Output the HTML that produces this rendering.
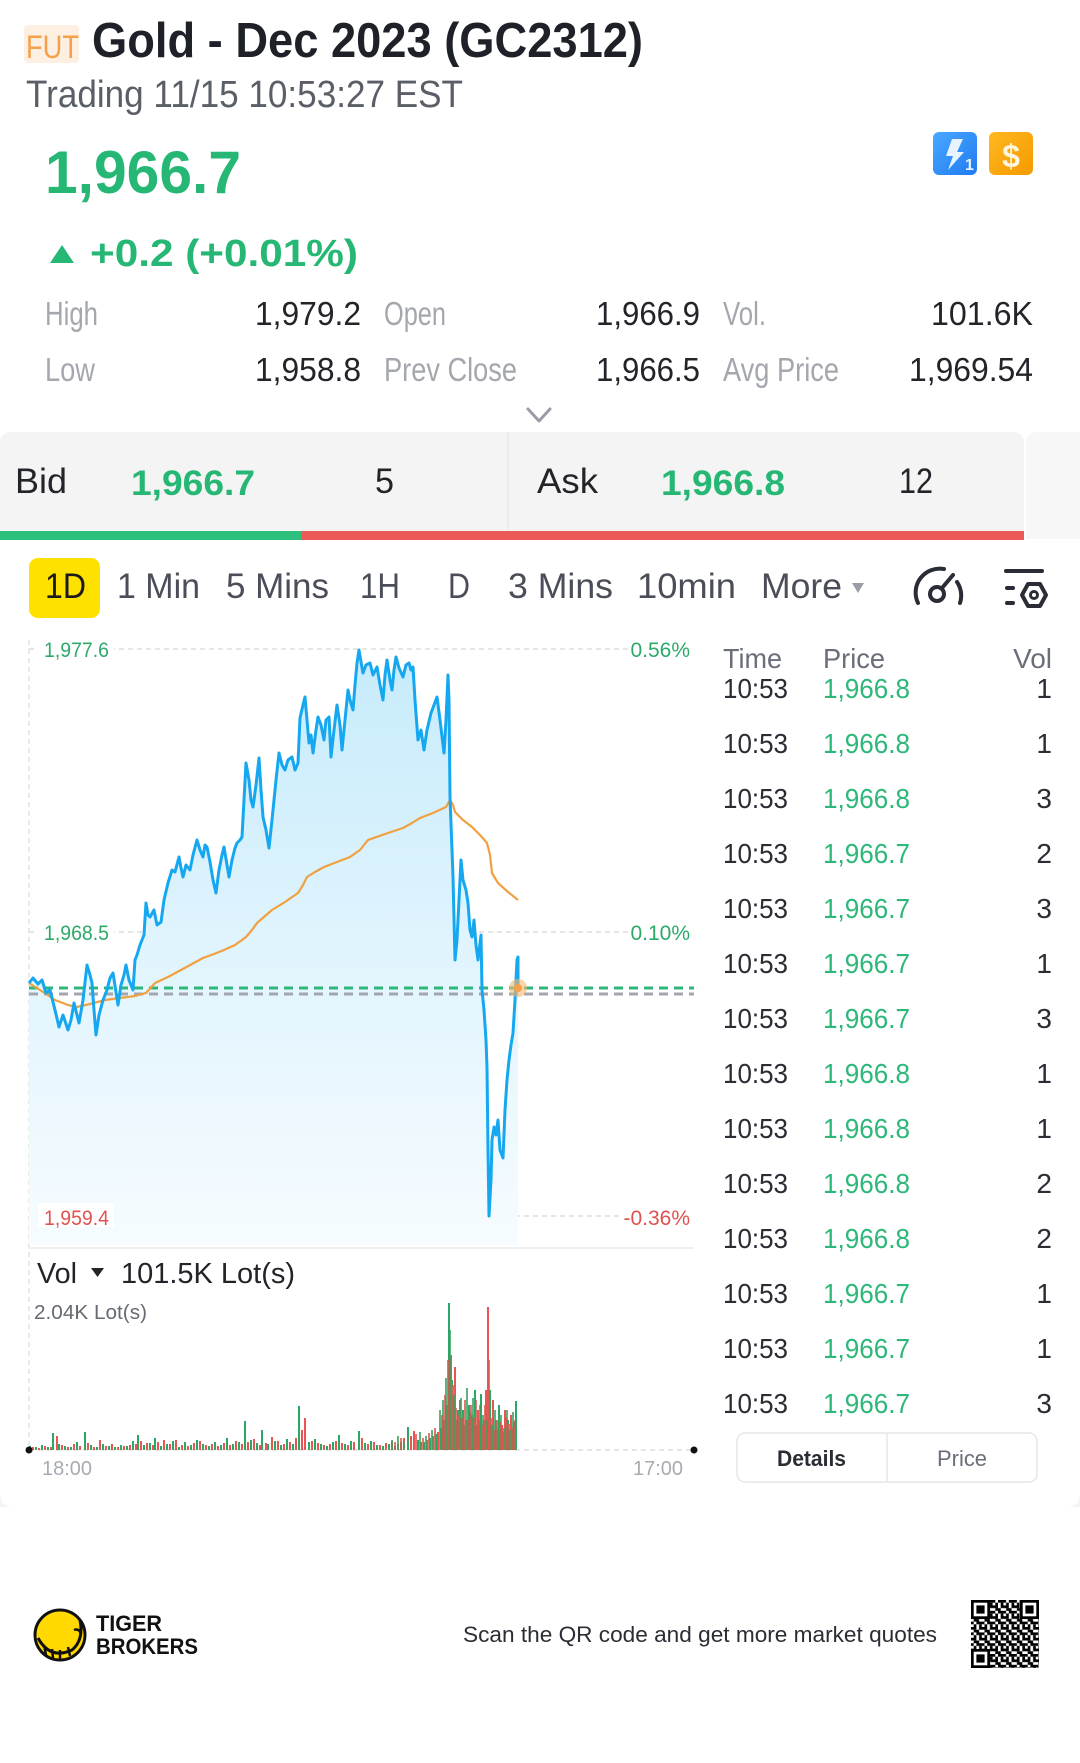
<!DOCTYPE html>
<html><head><meta charset="utf-8"><style>
html,body{margin:0;padding:0;background:#fff;}
svg{display:block;}
</style></head><body>
<svg width="1080" height="1763" viewBox="0 0 1080 1763" xmlns="http://www.w3.org/2000/svg" font-family="'Liberation Sans', sans-serif">
<defs>
<linearGradient id="af" gradientUnits="userSpaceOnUse" x1="0" y1="650" x2="0" y2="1245">
<stop offset="0" stop-color="#c6ebfb"/><stop offset="0.5" stop-color="#e0f4fd"/><stop offset="1" stop-color="#f6fcff"/>
</linearGradient>
<linearGradient id="bl" x1="0" y1="0" x2="1" y2="1"><stop offset="0" stop-color="#4aa8ff"/><stop offset="1" stop-color="#1f7bf0"/></linearGradient>
<linearGradient id="og" x1="0" y1="0" x2="1" y2="1"><stop offset="0" stop-color="#ffb820"/><stop offset="1" stop-color="#f59a00"/></linearGradient>
<pattern id="qr" width="10.8" height="10.8" patternUnits="userSpaceOnUse" x="971" y="1600">
<rect x="0" y="0" width="2.7" height="2.7" fill="#000"/><rect x="5.4" y="0" width="5.4" height="2.7" fill="#000"/>
<rect x="2.7" y="2.7" width="2.7" height="2.7" fill="#000"/><rect x="8.1" y="2.7" width="2.7" height="5.4" fill="#000"/>
<rect x="0" y="5.4" width="5.4" height="2.7" fill="#000"/><rect x="2.7" y="8.1" width="2.7" height="2.7" fill="#000"/>
<rect x="5.4" y="8.1" width="2.7" height="2.7" fill="#000"/>
</pattern>
</defs>

<!-- Header -->
<rect x="24" y="25" width="55" height="38" rx="4" fill="#fdf0e3"/>
<text x="26" y="58" font-size="32" fill="#f5a04a" textLength="53" lengthAdjust="spacingAndGlyphs">FUT</text>
<text x="92" y="57" font-size="49" font-weight="bold" fill="#1f2129" textLength="551" lengthAdjust="spacingAndGlyphs">Gold - Dec 2023 (GC2312)</text>
<text x="26" y="107" font-size="38" fill="#5a5e67" textLength="437" lengthAdjust="spacingAndGlyphs">Trading 11/15 10:53:27 EST</text>

<rect x="933" y="132" width="44" height="43" rx="6" fill="url(#bl)"/>
<path d="M952 139 L963 139 L957 152 L964 152 L948 170 L953 156 L946 156 Z" fill="#e8f3ff"/>
<text x="965" y="170" font-size="16" font-weight="bold" fill="#e8f3ff">1</text>
<rect x="989" y="132" width="44" height="43" rx="6" fill="url(#og)"/>
<text x="1011" y="167" font-size="32" font-weight="bold" fill="#fff6e0" text-anchor="middle">$</text>

<text x="45" y="193" font-size="60" font-weight="bold" fill="#27b775" textLength="196" lengthAdjust="spacingAndGlyphs">1,966.7</text>
<polygon points="50,263 62,245 74,263" fill="#27b775"/>
<text x="90" y="266" font-size="38" font-weight="bold" fill="#27b775" textLength="268" lengthAdjust="spacingAndGlyphs">+0.2 (+0.01%)</text>

<g font-size="33">
<text x="45" y="325" fill="#a4a7ae" textLength="53" lengthAdjust="spacingAndGlyphs">High</text>
<text x="255" y="325" fill="#222429" textLength="106" lengthAdjust="spacingAndGlyphs">1,979.2</text>
<text x="384" y="325" fill="#a4a7ae" textLength="62" lengthAdjust="spacingAndGlyphs">Open</text>
<text x="596" y="325" fill="#222429" textLength="104" lengthAdjust="spacingAndGlyphs">1,966.9</text>
<text x="723" y="325" fill="#a4a7ae" textLength="43" lengthAdjust="spacingAndGlyphs">Vol.</text>
<text x="931" y="325" fill="#222429" textLength="102" lengthAdjust="spacingAndGlyphs">101.6K</text>
<text x="45" y="381" fill="#a4a7ae" textLength="50" lengthAdjust="spacingAndGlyphs">Low</text>
<text x="255" y="381" fill="#222429" textLength="106" lengthAdjust="spacingAndGlyphs">1,958.8</text>
<text x="384" y="381" fill="#a4a7ae" textLength="133" lengthAdjust="spacingAndGlyphs">Prev Close</text>
<text x="596" y="381" fill="#222429" textLength="104" lengthAdjust="spacingAndGlyphs">1,966.5</text>
<text x="723" y="381" fill="#a4a7ae" textLength="116" lengthAdjust="spacingAndGlyphs">Avg Price</text>
<text x="909" y="381" fill="#222429" textLength="124" lengthAdjust="spacingAndGlyphs">1,969.54</text>
</g>
<polyline points="528,409 539,421 550,409" fill="none" stroke="#9a9da5" stroke-width="3" stroke-linecap="round" stroke-linejoin="round"/>

<!-- Bid / Ask -->
<path d="M0 444 Q0 432 12 432 L1012 432 Q1024 432 1024 444 L1024 539 L0 539 Z" fill="#f4f4f5"/>
<path d="M1038 432 L1080 432 L1080 539 L1026 539 L1026 444 Q1026 432 1038 432 Z" fill="#f7f7f8"/>
<line x1="508" y1="432" x2="508" y2="531" stroke="#e8e8ea" stroke-width="1.5"/>
<rect x="0" y="531" width="301" height="9" fill="#2dbf7c"/>
<rect x="301" y="531" width="723" height="9" fill="#ec5a58"/>
<g font-size="35">
<text x="15" y="493" fill="#222429" textLength="52" lengthAdjust="spacingAndGlyphs">Bid</text>
<text x="131" y="495" fill="#27b775" font-weight="bold" textLength="124" lengthAdjust="spacingAndGlyphs">1,966.7</text>
<text x="375" y="493" fill="#222429" textLength="19" lengthAdjust="spacingAndGlyphs">5</text>
<text x="537" y="493" fill="#222429" textLength="61" lengthAdjust="spacingAndGlyphs">Ask</text>
<text x="661" y="495" fill="#27b775" font-weight="bold" textLength="124" lengthAdjust="spacingAndGlyphs">1,966.8</text>
<text x="899" y="493" fill="#222429" textLength="34" lengthAdjust="spacingAndGlyphs">12</text>
</g>

<!-- Tabs -->
<rect x="29" y="558" width="71" height="60" rx="9" fill="#ffe100"/>
<g font-size="35">
<text x="45" y="598" fill="#1a1a1a" textLength="41" lengthAdjust="spacingAndGlyphs">1D</text>
<text x="117" y="598" fill="#4b4e58" textLength="83" lengthAdjust="spacingAndGlyphs">1 Min</text>
<text x="226" y="598" fill="#4b4e58" textLength="103" lengthAdjust="spacingAndGlyphs">5 Mins</text>
<text x="360" y="598" fill="#4b4e58" textLength="40" lengthAdjust="spacingAndGlyphs">1H</text>
<text x="448" y="598" fill="#4b4e58" textLength="22" lengthAdjust="spacingAndGlyphs">D</text>
<text x="508" y="598" fill="#4b4e58" textLength="105" lengthAdjust="spacingAndGlyphs">3 Mins</text>
<text x="637" y="598" fill="#4b4e58" textLength="99" lengthAdjust="spacingAndGlyphs">10min</text>
<text x="761" y="598" fill="#4b4e58" textLength="81" lengthAdjust="spacingAndGlyphs">More</text>
</g>
<polygon points="852,583 864,583 858,593" fill="#9a9da5"/>
<!-- speedometer -->
<g fill="none" stroke="#2a2d36" stroke-width="4" stroke-linecap="round">
<path d="M918 603 A24 24 0 0 1 944 569"/>
<path d="M957 582 A24 24 0 0 1 960 603"/>
<circle cx="937" cy="594" r="7"/>
<line x1="942" y1="588" x2="953" y2="575"/>
</g>
<!-- filter icon -->
<g fill="none" stroke="#2a2d36" stroke-width="4" stroke-linecap="round">
<line x1="1006" y1="571" x2="1042" y2="571"/>
<line x1="1007" y1="588" x2="1013" y2="588"/>
<line x1="1007" y1="603" x2="1013" y2="603"/>
<polygon points="1022,595 1028,584 1040,584 1046,595 1040,606 1028,606" stroke-linejoin="round"/>
<circle cx="1034" cy="595" r="3.5" stroke-width="3"/>
</g>

<!-- Price chart -->
<line x1="29" y1="640" x2="29" y2="1450" stroke="#e2e2e2" stroke-width="1.5" stroke-dasharray="5 4"/>
<g stroke="#dedede" stroke-width="1.5" stroke-dasharray="5 4">
<line x1="29" y1="649" x2="694" y2="649"/>
<line x1="29" y1="932" x2="694" y2="932"/>
<line x1="29" y1="1216" x2="694" y2="1216"/>
</g>

<polygon fill="url(#af)" points="29,1245 29,983 33,978 38,984 42,980 46,993 50,990 55,1010 59,1027 63,1015 68,1030 71,1020 74,1003 77,1015 79,1023 83,1000 87,965 90,975 92,983 94,1010 96,1035 99,1015 103,1000 107,990 110,978 113,973 116,992 118,1005 121,985 124,975 126,965 129,980 133,990 135,960 137,955 140,945 144,935 146,903 148,915 150,917 154,910 157,925 161,922 164,900 168,883 172,870 175,872 179,857 181,868 183,877 186,865 190,870 193,855 197,840 200,850 203,857 205,845 207,847 210,862 213,880 216,893 219,870 222,855 224,847 227,865 229,877 232,860 235,848 237,843 240,840 242,837 244,800 246,763 249,780 251,800 253,807 256,785 259,758 261,790 263,817 266,830 269,848 272,820 274,800 276,780 279,753 282,765 285,770 288,760 292,757 295,770 298,763 300,718 303,705 305,697 307,720 309,743 311,735 313,753 316,730 318,717 321,725 324,740 326,720 329,717 331,757 334,730 337,705 340,725 342,750 345,720 348,690 350,700 353,710 355,685 357,663 359,650 361,662 363,673 366,665 370,663 373,675 377,667 380,685 383,700 385,675 387,660 390,680 392,690 394,670 396,657 399,668 403,677 406,665 409,663 411,670 413,667 415,700 418,740 421,730 424,750 427,730 431,713 434,705 437,697 440,720 444,753 446,720 448,675 449,700 450,797 452,850 453,877 455,960 457,940 459,900 461,860 463,880 466,890 468,903 470,930 472,937 474,920 476,945 478,960 481,935 482,990 484,1010 486,1040 487,1067 488,1150 489,1216 491,1180 492,1140 494,1127 496,1135 498,1120 500,1150 503,1158 505,1110 507,1080 509,1060 511,1045 513,1033 515,1000 517,960 518,957 518,988 518,1245"/>

<g stroke-width="3" stroke-dasharray="9 6">
<line x1="29" y1="994" x2="694" y2="994" stroke="#a3a6ae"/>
<line x1="29" y1="988" x2="694" y2="988" stroke="#2db87a"/>
</g>

<polyline fill="none" stroke="#f0a040" stroke-width="2.2" stroke-linejoin="round" points="29,983 40,990 55,1000 68,1005 77,1007 90,1004 105,1000 120,998 135,996 146,993 155,983 168,977 181,970 192,964 203,958 214,954 224,950 235,945 242,940 246,937 252,930 257,923 265,916 272,910 285,902 298,893 303,885 307,877 315,872 324,867 337,862 350,857 360,850 368,840 385,834 403,828 412,823 420,818 433,813 446,807 450,800 453,805 455,812 463,820 472,827 480,835 487,843 490,855 492,873 495,878 498,883 508,892 518,900"/>

<polyline fill="none" stroke="#15a8f0" stroke-width="3" stroke-linejoin="round" points="29,983 33,978 38,984 42,980 46,993 50,990 55,1010 59,1027 63,1015 68,1030 71,1020 74,1003 77,1015 79,1023 83,1000 87,965 90,975 92,983 94,1010 96,1035 99,1015 103,1000 107,990 110,978 113,973 116,992 118,1005 121,985 124,975 126,965 129,980 133,990 135,960 137,955 140,945 144,935 146,903 148,915 150,917 154,910 157,925 161,922 164,900 168,883 172,870 175,872 179,857 181,868 183,877 186,865 190,870 193,855 197,840 200,850 203,857 205,845 207,847 210,862 213,880 216,893 219,870 222,855 224,847 227,865 229,877 232,860 235,848 237,843 240,840 242,837 244,800 246,763 249,780 251,800 253,807 256,785 259,758 261,790 263,817 266,830 269,848 272,820 274,800 276,780 279,753 282,765 285,770 288,760 292,757 295,770 298,763 300,718 303,705 305,697 307,720 309,743 311,735 313,753 316,730 318,717 321,725 324,740 326,720 329,717 331,757 334,730 337,705 340,725 342,750 345,720 348,690 350,700 353,710 355,685 357,663 359,650 361,662 363,673 366,665 370,663 373,675 377,667 380,685 383,700 385,675 387,660 390,680 392,690 394,670 396,657 399,668 403,677 406,665 409,663 411,670 413,667 415,700 418,740 421,730 424,750 427,730 431,713 434,705 437,697 440,720 444,753 446,720 448,675 449,700 450,797 452,850 453,877 455,960 457,940 459,900 461,860 463,880 466,890 468,903 470,930 472,937 474,920 476,945 478,960 481,935 482,990 484,1010 486,1040 487,1067 488,1150 489,1216 491,1180 492,1140 494,1127 496,1135 498,1120 500,1150 503,1158 505,1110 507,1080 509,1060 511,1045 513,1033 515,1000 517,960 518,957 518,988"/>
<circle cx="518" cy="988" r="9" fill="#f7b56e" fill-opacity="0.6"/>
<circle cx="518" cy="988" r="4" fill="#f5a04a"/>

<!-- axis labels -->
<g font-size="21">
<rect x="38" y="636" width="76" height="24" fill="#fff"/>
<text x="44" y="657" fill="#2daa6a" textLength="65" lengthAdjust="spacingAndGlyphs">1,977.6</text>
<rect x="628" y="636" width="66" height="24" fill="#fff"/>
<text x="690" y="657" fill="#2daa6a" text-anchor="end">0.56%</text>
<rect x="38" y="919" width="76" height="24" fill="#fff"/>
<text x="44" y="940" fill="#2daa6a" textLength="65" lengthAdjust="spacingAndGlyphs">1,968.5</text>
<rect x="628" y="919" width="66" height="24" fill="#fff"/>
<text x="690" y="940" fill="#2daa6a" text-anchor="end">0.10%</text>
<rect x="38" y="1203" width="76" height="24" fill="#fff"/>
<text x="44" y="1225" fill="#e0524f" textLength="65" lengthAdjust="spacingAndGlyphs">1,959.4</text>
<rect x="620" y="1203" width="74" height="24" fill="#fff"/>
<text x="690" y="1225" fill="#e0524f" text-anchor="end">-0.36%</text>
</g>

<!-- Volume -->
<line x1="28" y1="1248" x2="694" y2="1248" stroke="#ececec" stroke-width="1.5"/>
<text x="37" y="1283" font-size="29" fill="#222429" textLength="40" lengthAdjust="spacingAndGlyphs">Vol</text>
<polygon points="91,1268 104,1268 97.5,1277" fill="#222429"/>
<text x="121" y="1283" font-size="29" fill="#222429" textLength="174" lengthAdjust="spacingAndGlyphs">101.5K Lot(s)</text>
<text x="34" y="1319" font-size="20" fill="#666a72" textLength="113" lengthAdjust="spacingAndGlyphs">2.04K Lot(s)</text>

<line x1="29" y1="1450" x2="694" y2="1450" stroke="#dedede" stroke-width="1.5" stroke-dasharray="5 4"/>
<path fill="none" stroke="#2aa865" stroke-width="2" d="M30 1450V1446M36 1450V1447M42 1450V1445M48 1450V1447M53 1450V1433M59 1450V1444M65 1450V1446M71 1450V1447M77 1450V1442M85 1450V1432M91 1450V1445M97 1450V1447M103 1450V1444M109 1450V1446M115 1450V1447M121 1450V1445M127 1450V1446M133 1450V1441M138 1450V1435M144 1450V1445M150 1450V1443M155 1450V1438M161 1450V1446M167 1450V1444M173 1450V1441M179 1450V1447M185 1450V1442M191 1450V1445M197 1450V1440M203 1450V1444M209 1450V1446M215 1450V1442M221 1450V1445M227 1450V1438M233 1450V1444M239 1450V1442M245 1450V1421M251 1450V1440M257 1450V1443M262 1450V1430M268 1450V1444M275 1450V1441M281 1450V1445M287 1450V1439M293 1450V1444M299 1450V1406M309 1450V1442M315 1450V1439M321 1450V1444M327 1450V1446M333 1450V1442M339 1450V1435M345 1450V1444M351 1450V1441M359 1450V1431M365 1450V1443M371 1450V1441M377 1450V1445M383 1450V1446M389 1450V1444M395 1450V1446M401 1450V1442M408 1450V1427M418 1450V1440M424 1450V1442M430 1450V1438M436 1450V1434M441 1450V1428M444 1450V1420M449 1450V1303M452 1450V1380M458 1450V1410M463 1450V1410M469 1450V1405M475 1450V1390M481 1450V1394M490 1450V1390M496 1450V1420M499 1450V1405M508 1450V1420M514 1450V1422M516 1450V1401"/>
<path fill="none" stroke="#ea5553" stroke-width="2" d="M33 1450V1447M39 1450V1448M45 1450V1446M51 1450V1447M57 1450V1436M62 1450V1445M68 1450V1447M74 1450V1444M80 1450V1446M88 1450V1443M94 1450V1447M100 1450V1440M106 1450V1446M112 1450V1444M118 1450V1447M124 1450V1446M130 1450V1445M136 1450V1444M141 1450V1441M147 1450V1443M153 1450V1445M158 1450V1442M164 1450V1440M170 1450V1444M176 1450V1440M182 1450V1445M188 1450V1446M194 1450V1443M200 1450V1441M206 1450V1445M212 1450V1444M218 1450V1446M224 1450V1443M230 1450V1445M236 1450V1441M242 1450V1444M248 1450V1442M254 1450V1439M260 1450V1445M266 1450V1443M272 1450V1437M278 1450V1441M284 1450V1444M290 1450V1442M296 1450V1438M302 1450V1430M305 1450V1418M312 1450V1441M318 1450V1443M324 1450V1445M330 1450V1444M336 1450V1441M342 1450V1443M348 1450V1445M354 1450V1442M362 1450V1438M368 1450V1444M374 1450V1442M380 1450V1445M386 1450V1443M392 1450V1441M398 1450V1444M404 1450V1438M411 1450V1436M414 1450V1431M421 1450V1442M427 1450V1440M433 1450V1436M438 1450V1432M447 1450V1405M451 1450V1355M455 1450V1367M460 1450V1400M466 1450V1420M472 1450V1415M478 1450V1410M484 1450V1420M486 1450V1390M488 1450V1307M493 1450V1400M502 1450V1425M505 1450V1410M511 1450V1415"/>
<path fill="none" stroke="#3a9f5e" stroke-width="1.6" d="M392 1450V1440M398 1450V1436M404 1450V1442M420 1450V1432M426 1450V1436M432 1450V1430M440 1450V1410M443 1450V1400M446 1450V1378M450 1450V1330M454 1450V1395M457 1450V1420M461 1450V1398M464 1450V1425M467 1450V1388M470 1450V1412M473 1450V1398M477 1450V1425M480 1450V1405M483 1450V1415M487 1450V1420M492 1450V1425M495 1450V1410M498 1450V1430M501 1450V1415M504 1450V1428M507 1450V1410M510 1450V1430M513 1450V1412"/>
<path fill="none" stroke="#d8584e" stroke-width="1.6" d="M395 1450V1442M401 1450V1438M416 1450V1434M423 1450V1438M429 1450V1433M435 1450V1428M442 1450V1415M445 1450V1395M448 1450V1360M453 1450V1385M456 1450V1408M459 1450V1415M462 1450V1418M465 1450V1400M468 1450V1420M471 1450V1405M474 1450V1418M476 1450V1400M479 1450V1420M482 1450V1425M485 1450V1405M489 1450V1360M491 1450V1418M494 1450V1430M497 1450V1420M500 1450V1422M503 1450V1432M506 1450V1418M509 1450V1424M512 1450V1428M515 1450V1420"/>
<circle cx="29" cy="1450" r="3.5" fill="#111"/>
<circle cx="694" cy="1450" r="3.5" fill="#111"/>
<text x="42" y="1475" font-size="20" fill="#a8abb2" textLength="50" lengthAdjust="spacingAndGlyphs">18:00</text>
<text x="633" y="1475" font-size="20" fill="#a8abb2" textLength="50" lengthAdjust="spacingAndGlyphs">17:00</text>

<!-- Trade table -->
<g font-size="28">
<text x="723" y="668" fill="#6a6e78" textLength="59" lengthAdjust="spacingAndGlyphs">Time</text>
<text x="823" y="668" fill="#6a6e78" textLength="62" lengthAdjust="spacingAndGlyphs">Price</text>
<text x="1052" y="668" fill="#6a6e78" text-anchor="end">Vol</text>

<text x="723" y="698" fill="#2b2d35" textLength="65" lengthAdjust="spacingAndGlyphs">10:53</text><text x="823" y="698" fill="#2db87a" textLength="87" lengthAdjust="spacingAndGlyphs">1,966.8</text><text x="1052" y="698" fill="#2b2d35" text-anchor="end">1</text>
<text x="723" y="753" fill="#2b2d35" textLength="65" lengthAdjust="spacingAndGlyphs">10:53</text><text x="823" y="753" fill="#2db87a" textLength="87" lengthAdjust="spacingAndGlyphs">1,966.8</text><text x="1052" y="753" fill="#2b2d35" text-anchor="end">1</text>
<text x="723" y="808" fill="#2b2d35" textLength="65" lengthAdjust="spacingAndGlyphs">10:53</text><text x="823" y="808" fill="#2db87a" textLength="87" lengthAdjust="spacingAndGlyphs">1,966.8</text><text x="1052" y="808" fill="#2b2d35" text-anchor="end">3</text>
<text x="723" y="863" fill="#2b2d35" textLength="65" lengthAdjust="spacingAndGlyphs">10:53</text><text x="823" y="863" fill="#2db87a" textLength="87" lengthAdjust="spacingAndGlyphs">1,966.7</text><text x="1052" y="863" fill="#2b2d35" text-anchor="end">2</text>
<text x="723" y="918" fill="#2b2d35" textLength="65" lengthAdjust="spacingAndGlyphs">10:53</text><text x="823" y="918" fill="#2db87a" textLength="87" lengthAdjust="spacingAndGlyphs">1,966.7</text><text x="1052" y="918" fill="#2b2d35" text-anchor="end">3</text>
<text x="723" y="973" fill="#2b2d35" textLength="65" lengthAdjust="spacingAndGlyphs">10:53</text><text x="823" y="973" fill="#2db87a" textLength="87" lengthAdjust="spacingAndGlyphs">1,966.7</text><text x="1052" y="973" fill="#2b2d35" text-anchor="end">1</text>
<text x="723" y="1028" fill="#2b2d35" textLength="65" lengthAdjust="spacingAndGlyphs">10:53</text><text x="823" y="1028" fill="#2db87a" textLength="87" lengthAdjust="spacingAndGlyphs">1,966.7</text><text x="1052" y="1028" fill="#2b2d35" text-anchor="end">3</text>
<text x="723" y="1083" fill="#2b2d35" textLength="65" lengthAdjust="spacingAndGlyphs">10:53</text><text x="823" y="1083" fill="#2db87a" textLength="87" lengthAdjust="spacingAndGlyphs">1,966.8</text><text x="1052" y="1083" fill="#2b2d35" text-anchor="end">1</text>
<text x="723" y="1138" fill="#2b2d35" textLength="65" lengthAdjust="spacingAndGlyphs">10:53</text><text x="823" y="1138" fill="#2db87a" textLength="87" lengthAdjust="spacingAndGlyphs">1,966.8</text><text x="1052" y="1138" fill="#2b2d35" text-anchor="end">1</text>
<text x="723" y="1193" fill="#2b2d35" textLength="65" lengthAdjust="spacingAndGlyphs">10:53</text><text x="823" y="1193" fill="#2db87a" textLength="87" lengthAdjust="spacingAndGlyphs">1,966.8</text><text x="1052" y="1193" fill="#2b2d35" text-anchor="end">2</text>
<text x="723" y="1248" fill="#2b2d35" textLength="65" lengthAdjust="spacingAndGlyphs">10:53</text><text x="823" y="1248" fill="#2db87a" textLength="87" lengthAdjust="spacingAndGlyphs">1,966.8</text><text x="1052" y="1248" fill="#2b2d35" text-anchor="end">2</text>
<text x="723" y="1303" fill="#2b2d35" textLength="65" lengthAdjust="spacingAndGlyphs">10:53</text><text x="823" y="1303" fill="#2db87a" textLength="87" lengthAdjust="spacingAndGlyphs">1,966.7</text><text x="1052" y="1303" fill="#2b2d35" text-anchor="end">1</text>
<text x="723" y="1358" fill="#2b2d35" textLength="65" lengthAdjust="spacingAndGlyphs">10:53</text><text x="823" y="1358" fill="#2db87a" textLength="87" lengthAdjust="spacingAndGlyphs">1,966.7</text><text x="1052" y="1358" fill="#2b2d35" text-anchor="end">1</text>
<text x="723" y="1413" fill="#2b2d35" textLength="65" lengthAdjust="spacingAndGlyphs">10:53</text><text x="823" y="1413" fill="#2db87a" textLength="87" lengthAdjust="spacingAndGlyphs">1,966.7</text><text x="1052" y="1413" fill="#2b2d35" text-anchor="end">3</text>
</g>

<rect x="737" y="1433" width="300" height="49" rx="8" fill="#fff" stroke="#e6e6e8" stroke-width="1.5"/>
<line x1="887" y1="1434" x2="887" y2="1481" stroke="#e6e6e8" stroke-width="1.5"/>
<text x="777" y="1466" font-size="22" font-weight="bold" fill="#2b2d35" textLength="69" lengthAdjust="spacingAndGlyphs">Details</text>
<text x="937" y="1466" font-size="22" fill="#6a6e78" textLength="50" lengthAdjust="spacingAndGlyphs">Price</text>

<!-- card bottom corners -->
<path d="M0 1493 L0 1507 L14 1507 Q0 1507 0 1493 Z" fill="#f4f4f4"/>
<path d="M1080 1493 L1080 1507 L1066 1507 Q1080 1507 1080 1493 Z" fill="#f4f4f4"/>

<!-- Footer -->
<circle cx="60" cy="1635" r="25" fill="#ffd900" stroke="#111" stroke-width="3"/>
<path d="M38 1638 Q50 1660 72 1650 Q84 1640 80 1620" fill="none" stroke="#111" stroke-width="3"/>
<path d="M44 1645 L46 1655 M52 1649 L53 1658 M60 1650 L60 1659 M68 1647 L70 1656 M74 1630 Q79 1628 81 1634" fill="none" stroke="#111" stroke-width="2.5"/>
<text x="96" y="1631" font-size="22" font-weight="bold" fill="#111" textLength="66" lengthAdjust="spacingAndGlyphs">TIGER</text>
<text x="96" y="1654" font-size="22" font-weight="bold" fill="#111" textLength="102" lengthAdjust="spacingAndGlyphs">BROKERS</text>
<text x="463" y="1642" font-size="22" fill="#2b2d35" textLength="474" lengthAdjust="spacingAndGlyphs">Scan the QR code and get more market quotes</text>

<rect x="971" y="1600" width="68" height="68" fill="url(#qr)"/>
<g>
<rect x="971" y="1600" width="19" height="19" fill="#000"/><rect x="973.7" y="1602.7" width="13.6" height="13.6" fill="#fff"/><rect x="976.4" y="1605.4" width="8.2" height="8.2" fill="#000"/>
<rect x="1020" y="1600" width="19" height="19" fill="#000"/><rect x="1022.7" y="1602.7" width="13.6" height="13.6" fill="#fff"/><rect x="1025.4" y="1605.4" width="8.2" height="8.2" fill="#000"/>
<rect x="971" y="1649" width="19" height="19" fill="#000"/><rect x="973.7" y="1651.7" width="13.6" height="13.6" fill="#fff"/><rect x="976.4" y="1654.4" width="8.2" height="8.2" fill="#000"/>
</g>
</svg>
</body></html>
